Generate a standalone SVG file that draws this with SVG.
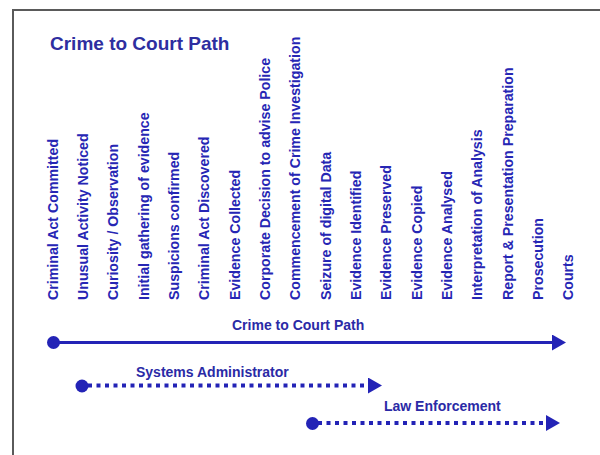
<svg xmlns="http://www.w3.org/2000/svg" width="600" height="455" viewBox="0 0 600 455">
  <defs>
    <style>
      .title { font-family: "Liberation Sans", Arial, sans-serif; font-weight: bold; font-size: 19px; fill: #2e2ea0; }
      .step { font-family: "Liberation Sans", Arial, sans-serif; font-weight: bold; font-size: 14.2px; fill: #2626b4; }
      .lbl { font-family: "Liberation Sans", Arial, sans-serif; font-weight: bold; font-size: 14px; fill: #2a2aa6; }
      .path-solid { stroke: #2323b6; stroke-width: 3; fill: none; }
      .path-dot { stroke: #2323b6; stroke-width: 4; fill: none; stroke-dasharray: 4 4.5; }
      .dot { fill: #2323b6; }
    </style>
    <marker id="head" markerUnits="userSpaceOnUse" markerWidth="16" markerHeight="18" refX="0" refY="8" orient="auto">
      <path d="M0,0 L14,8 L0,16 z" fill="#2323b6"/>
    </marker>
  </defs>

  <rect width="600" height="455" fill="#ffffff"/>
  <!-- frame -->
  <path d="M13,455 L13,10 L600,10" fill="none" stroke="#5a5a5a" stroke-width="2"/>

  <text class="title" x="50" y="49.5">Crime to Court Path</text>

  <!-- stages, read bottom to top -->
  <g id="stages">
    <text class="step" transform="translate(57.5,300) rotate(-90)">Criminal Act Committed</text>
    <text class="step" transform="translate(87.8,300) rotate(-90)">Unusual Activity Noticed</text>
    <text class="step" transform="translate(118.1,300) rotate(-90)">Curiosity / Observation</text>
    <text class="step" transform="translate(148.5,300) rotate(-90)">Initial gathering of evidence</text>
    <text class="step" transform="translate(178.8,300) rotate(-90)">Suspicions confirmed</text>
    <text class="step" transform="translate(209.2,300) rotate(-90)">Criminal Act Discovered</text>
    <text class="step" transform="translate(239.5,300) rotate(-90)">Evidence Collected</text>
    <text class="step" transform="translate(269.9,300) rotate(-90)">Corporate Decision to advise Police</text>
    <text class="step" transform="translate(300.2,300) rotate(-90)">Commencement of Crime Investigation</text>
    <text class="step" transform="translate(330.6,300) rotate(-90)">Seizure of digital Data</text>
    <text class="step" transform="translate(360.9,300) rotate(-90)">Evidence Identified</text>
    <text class="step" transform="translate(391.3,300) rotate(-90)">Evidence Preserved</text>
    <text class="step" transform="translate(421.6,300) rotate(-90)">Evidence Copied</text>
    <text class="step" transform="translate(452,300) rotate(-90)">Evidence Analysed</text>
    <text class="step" transform="translate(482.3,300) rotate(-90)">Interpretation of Analysis</text>
    <text class="step" transform="translate(512.7,300) rotate(-90)">Report &amp; Presentation Preparation</text>
    <text class="step" transform="translate(543,300) rotate(-90)">Prosecution</text>
    <text class="step" transform="translate(573.4,300) rotate(-90)">Courts</text>
  </g>

  <!-- spans -->
  <g id="connectors">
    <g id="crime-to-court">
      <text class="lbl" x="232" y="330">Crime to Court Path</text>
      <circle class="dot" cx="53.5" cy="342.5" r="6.5"/>
      <line class="path-solid" x1="53.5" y1="342.5" x2="552" y2="342.5" marker-end="url(#head)"/>
    </g>
    <g id="sysadmin">
      <text class="lbl" x="136" y="377">Systems Administrator</text>
      <circle class="dot" cx="82" cy="386" r="6.5"/>
      <line class="path-dot" x1="88" y1="385.5" x2="368" y2="385.5" marker-end="url(#head)"/>
    </g>
    <g id="law-enforcement">
      <text class="lbl" x="384" y="411">Law Enforcement</text>
      <circle class="dot" cx="312.5" cy="423.5" r="6.5"/>
      <line class="path-dot" x1="318" y1="423" x2="546" y2="423" marker-end="url(#head)"/>
    </g>
  </g>
</svg>
